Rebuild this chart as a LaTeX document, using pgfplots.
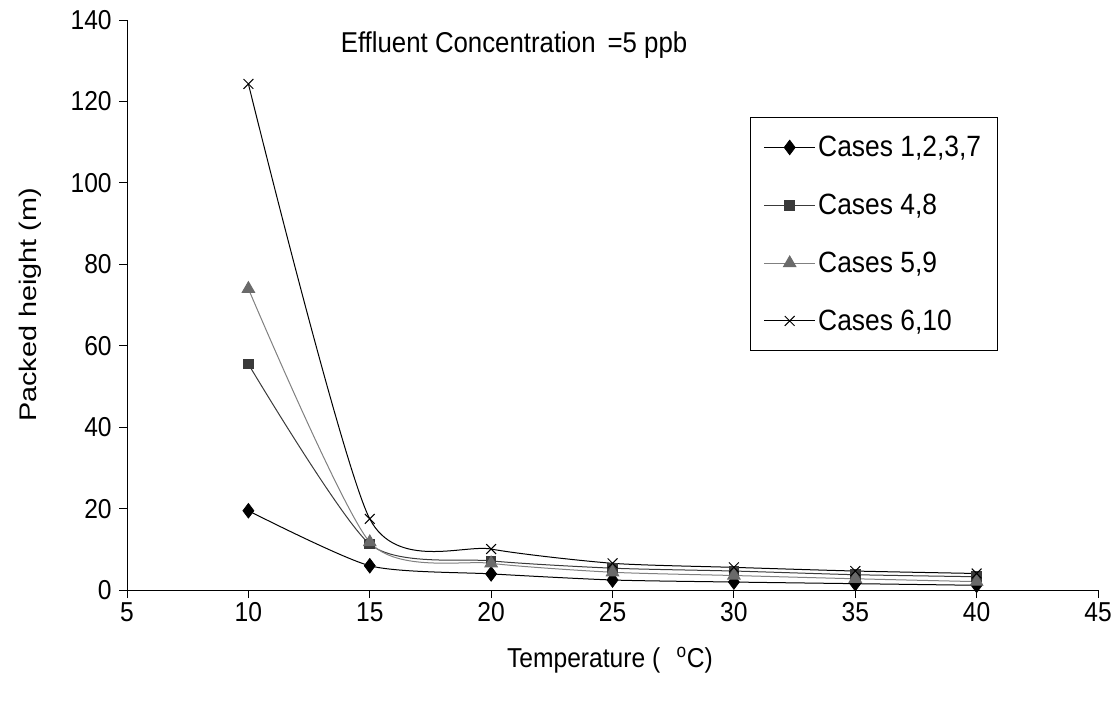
\documentclass[border=0pt]{standalone}
\usepackage{pgfplots}
\pgfplotsset{compat=1.18}
\usepackage{fontspec}
\setmainfont{Liberation Sans}[FakeStretch=0.9]
\newfontfamily\ylabfont{Liberation Sans}[FakeStretch=1.2]
\definecolor{sqgray}{HTML}{3A3A3A}
\definecolor{trigray}{HTML}{6A6A6A}
\definecolor{trline}{HTML}{808080}
\begin{document}
\begin{tikzpicture}
\begin{axis}[
  scale only axis,
  width=728pt, height=427.5pt,
  xmin=5, xmax=45, ymin=0, ymax=140,
  xtick={5,10,...,45}, ytick={0,20,...,140},
  axis lines=left,
  axis line style={-, line width=0.75pt},
  tick style={black, line width=0.75pt},
  tick align=outside,
  major tick length=6pt,
  /pgf/number format/assume math mode=true,
  ticklabel style={font=\fontsize{20.5}{23}\selectfont},
  yticklabel style={xshift=-2pt},
  xlabel={Temperature (\hspace{0.6em}\textsuperscript{o}C)},
  ylabel={Packed height (m)},
  xlabel style={font=\fontsize{20.5}{23}\selectfont, at={(axis description cs:0.4974,-0.1228)}, anchor=center},
  ylabel style={font=\ylabfont\fontsize{18}{21}\selectfont, at={(axis description cs:-0.0999,0.5)}, anchor=center},
  legend style={at={(0.6416,0.8298)}, anchor=north west, draw=black, line width=0.75pt,
    font=\fontsize{22}{25}\selectfont, inner xsep=10pt, inner ysep=12pt, row sep=22.5pt,
    cells={anchor=west}},
  legend image code/.code={\draw[mark repeat=2,mark phase=2] plot coordinates {(0pt,0pt)(19pt,0pt)(38pt,0pt)};},
  every axis plot/.append style={line width=0.75pt, smooth, tension=0.4},
]
\addplot[black, mark=diamond*, mark size=5.5pt, mark options={fill=black, line width=0.5pt}]
  coordinates {(10,19.5) (15,6.0) (20,4.0) (25,2.5) (30,2.0) (35,1.6) (40,1.2)};
\addlegendentry{Cases 1,2,3,7}
\addplot[sqgray, mark=square*, mark size=3.6pt, mark options={fill=sqgray, draw=sqgray}]
  coordinates {(10,55.5) (15,11.3) (20,7.2) (25,5.4) (30,4.7) (35,3.8) (40,3.3)};
\addlegendentry{Cases 4,8}
\addplot[trline, mark=triangle*, mark size=5.3pt, mark options={fill=trigray, draw=trigray}]
  coordinates {(10,74) (15,11.8) (20,6.6) (25,4.4) (30,3.6) (35,2.8) (40,2.1)};
\addlegendentry{Cases 5,9}
\addplot[black, mark=x, mark size=5.2pt]
  coordinates {(10,124.3) (15,17.5) (20,10.1) (25,6.6) (30,5.6) (35,4.7) (40,4.1)};
\addlegendentry{Cases 6,10}
\node[font=\fontsize{21.5}{24}\selectfont, anchor=center] at (rel axis cs:0.3986,0.956) {Effluent Concentration \,=5 ppb};
\end{axis}
\pgfresetboundingbox
\path ([xshift=-95.25pt,yshift=-85.5pt]current axis.south west) rectangle ([xshift=16.5pt,yshift=15pt]current axis.north east);
\end{tikzpicture}
\end{document}
